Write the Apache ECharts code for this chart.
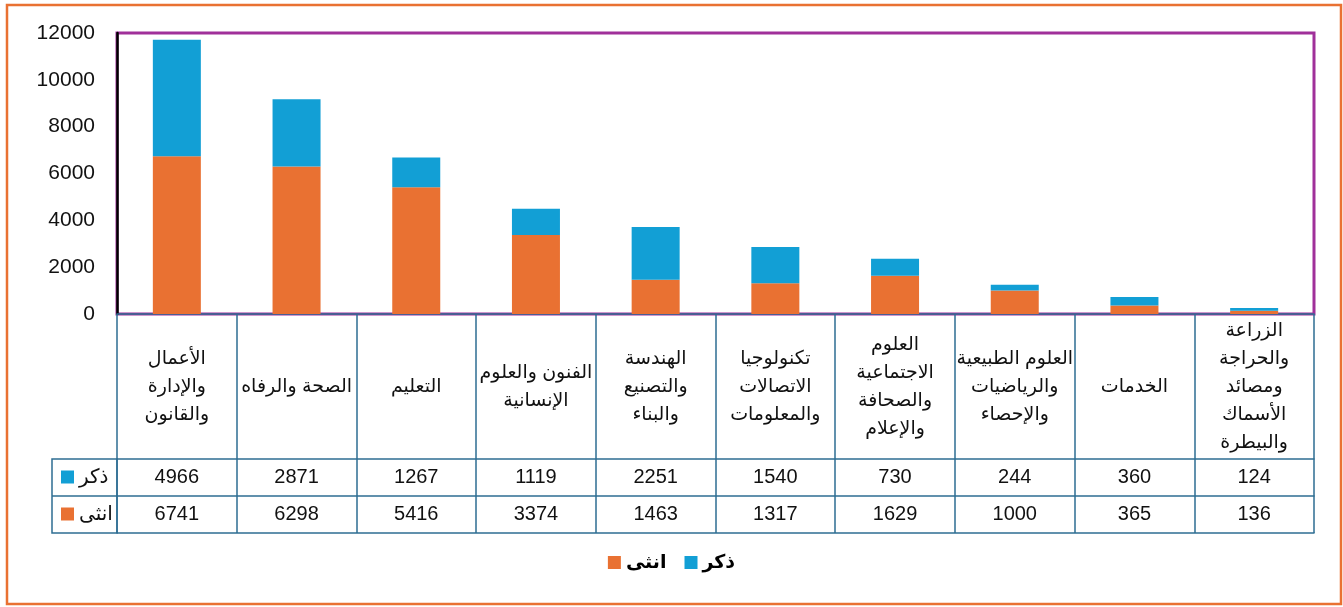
<!DOCTYPE html>
<html>
<head>
<meta charset="utf-8">
<script src="https://cdn.jsdelivr.net/npm/echarts@6/dist/echarts.min.js"></script>
<style>
  html, body { margin: 0; padding: 0; background: #fff; }
  #chart { width: 1343px; height: 607px; }
</style>
</head>
<body>
<div id="chart"></div>
<script>
var categories = [
    "الأعمال\nوالإدارة\nوالقانون",
    "الصحة والرفاه",
    "التعليم",
    "الفنون والعلوم\nالإنسانية",
    "الهندسة\nوالتصنيع\nوالبناء",
    "تكنولوجيا\nالاتصالات\nوالمعلومات",
    "العلوم\nالاجتماعية\nوالصحافة\nوالإعلام",
    "العلوم الطبيعية\nوالرياضيات\nوالإحصاء",
    "الخدمات",
    "الزراعة\nوالحراجة\nومصائد\nالأسماك\nوالبيطرة"
];
var maleValues = [4966, 2871, 1267, 1119, 2251, 1540, 730, 244, 360, 124];
var femaleValues = [6741, 6298, 5416, 3374, 1463, 1317, 1629, 1000, 365, 136];
var seriesNames = ["ذكر", "انثى"];

var blue = "#129FD5",
    orange = "#E97132",
    lineCol = "#2E6E92",
    font = "Liberation Sans, Arial, DejaVu Sans, sans-serif";

(function() {
    var myChart = echarts.init(document.getElementById("chart"));

    // extra bottom axes make the rows of the data table
    function tableAxis(offset, labels, margin) {
        return {
            type: "category",
            data: categories,
            position: "bottom",
            offset: offset,
            axisLine: { lineStyle: { color: lineCol, width: 1.5 } },
            axisTick: { show: false },
            axisLabel: labels ? {
                show: true,
                interval: 0,
                margin: margin,
                verticalAlign: "middle",
                fontSize: 20,
                color: "#111",
                fontFamily: font,
                formatter: function(v, i) { return String(labels[i]); }
            } : { show: false }
        };
    }

    function keyText(top, name, color) {
        return {
            type: "text",
            left: 61,
            top: top,
            style: {
                text: "{sq|}{t|" + name + "}",
                rich: {
                    sq: { width: 13, height: 13, backgroundColor: color },
                    t: { fontSize: 20, fontFamily: font, fill: "#111", padding: [0, 0, 0, 5] }
                }
            }
        };
    }

    var option = {
        animation: false,
        backgroundColor: "#fff",
        grid: {
            left: 117,
            right: 29,
            top: 33,
            bottom: 293,
            show: true,
            borderColor: "#A0309A",
            borderWidth: 3
        },
        legend: {
            data: ["انثى", "ذكر"],
            bottom: 30,
            left: "center",
            itemWidth: 13,
            itemHeight: 13,
            itemGap: 18,
            icon: "rect",
            textStyle: { fontSize: 19, fontWeight: "bold", color: "#000", fontFamily: font }
        },
        xAxis: [
            {
                type: "category",
                data: categories,
                position: "bottom",
                axisLine: { lineStyle: { color: lineCol, width: 1.5 } },
                axisTick: { show: true, length: 219, lineStyle: { color: lineCol, width: 1.5 } },
                axisLabel: {
                    interval: 0,
                    margin: 73,
                    verticalAlign: "middle",
                    fontSize: 19,
                    lineHeight: 28,
                    color: "#111",
                    fontFamily: font
                }
            },
            tableAxis(145, maleValues, 18),
            tableAxis(182, femaleValues, 18),
            tableAxis(219, null, 0)
        ],
        yAxis: {
            type: "value",
            min: 0,
            max: 12000,
            interval: 2000,
            axisLine: { show: true, lineStyle: { color: "#000", width: 2.5 } },
            axisTick: { show: false },
            splitLine: { show: false },
            axisLabel: {
                margin: 22,
                fontSize: 21,
                color: "#111",
                fontFamily: font,
                formatter: function(v) { return String(v); }
            }
        },
        series: [
            {
                name: seriesNames[1],
                type: "bar",
                stack: "total",
                barWidth: 48,
                itemStyle: { color: orange },
                data: femaleValues
            },
            {
                name: seriesNames[0],
                type: "bar",
                stack: "total",
                barWidth: 48,
                itemStyle: { color: blue },
                data: maleValues
            }
        ],
        graphic: [
            {
                type: "rect",
                shape: { x: 7, y: 5, width: 1334, height: 599 },
                style: { fill: "none", stroke: orange, lineWidth: 2.5 },
                silent: true
            },
            {
                type: "rect",
                shape: { x: 52, y: 459, width: 65, height: 74 },
                style: { fill: "none", stroke: lineCol, lineWidth: 1.5 },
                silent: true
            },
            {
                type: "line",
                shape: { x1: 52, y1: 496, x2: 117, y2: 496 },
                style: { stroke: lineCol, lineWidth: 1.5 },
                silent: true
            },
            keyText(467, seriesNames[0], blue),
            keyText(504, seriesNames[1], orange)
        ]
    };

    myChart.setOption(option);
})();
</script>
</body>
</html>
